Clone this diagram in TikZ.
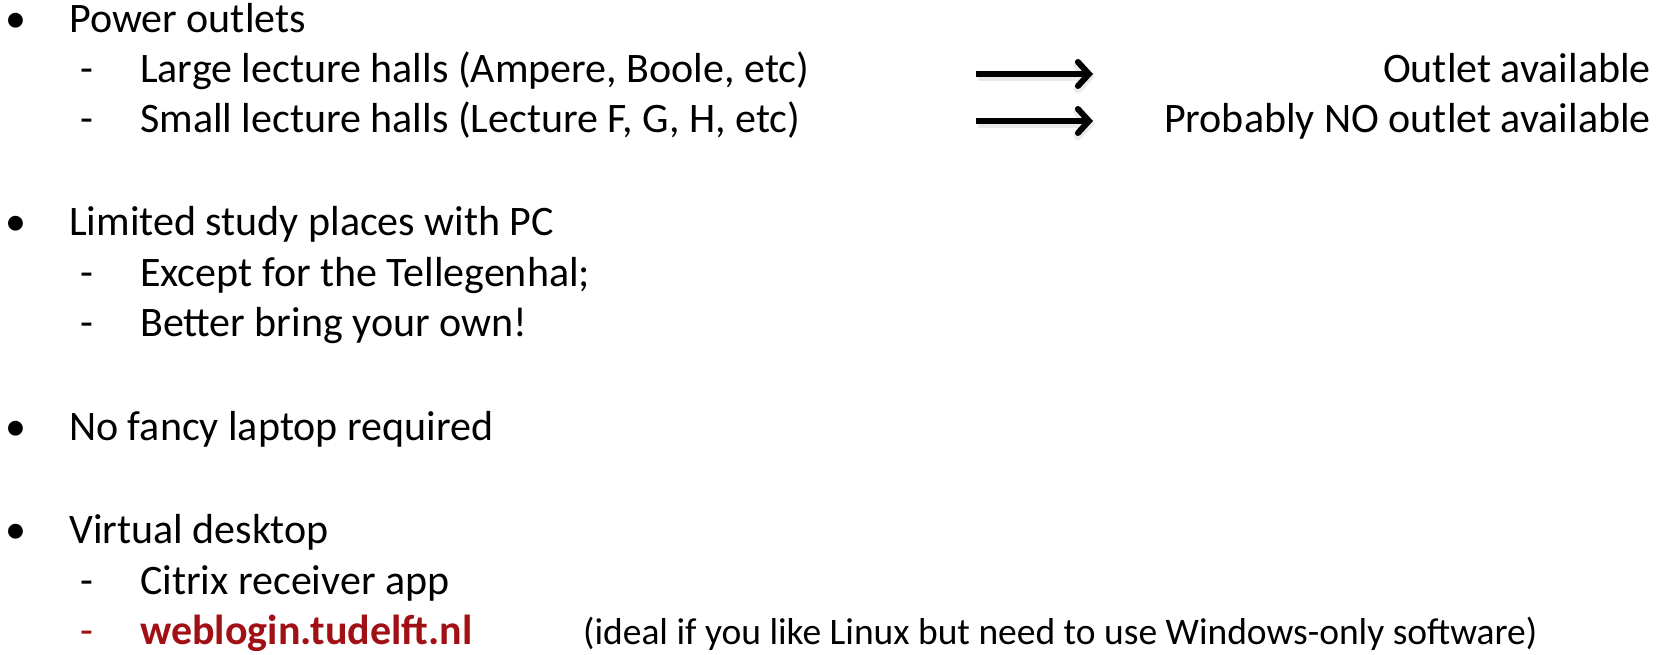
\documentclass[tikz,border=0pt]{standalone}
\usepackage{fontspec}
\setmainfont{Carlito}
\usetikzlibrary{arrows.meta}
\definecolor{tured}{RGB}{160,16,20}
\begin{document}
\begin{tikzpicture}[x=1pt,y=-1pt,
  txt/.style={anchor=base west,inner sep=0pt,font=\fontsize{42}{50}\selectfont},
  rtxt/.style={anchor=base east,inner sep=0pt,font=\fontsize{42}{50}\selectfont},
  bul/.style={anchor=base,inner sep=0pt,font=\fontsize{42}{50}\selectfont},
  arr/.style={line width=6pt,-{Straight Barb[length=11pt,width=24pt,line cap=round]}},
  arrshadow/.style={arr,draw=black,opacity=0.08,line width=9pt}]
\useasboundingbox (0,0) rectangle (1667,655);
% level 1
\node[bul] (b1) at (16,33) {•};
\node[txt] (t1) at (69,33) {Power outlets};
\node[bul] (d11) at (87,83) {-};
\node[txt] (t11) at (140,83) {Large lecture halls (Ampere, Boole, etc)};
\node[bul] (d12) at (87,133) {-};
\node[txt] (t12) at (140,133) {Small lecture halls (Lecture F, G, H, etc)};
\coordinate (a1s) at (976,74);
\coordinate (a1e) at (1093,74);
\coordinate (a2s) at (976,121);
\coordinate (a2e) at (1093,121);
\coordinate (s1s) at (978,77);
\coordinate (s1e) at (1095,77);
\coordinate (s2s) at (978,124);
\coordinate (s2e) at (1095,124);
\draw[arrshadow] (s1s) -- (s1e);
\draw[arrshadow] (s2s) -- (s2e);
\draw[arr] (a1s) -- (a1e);
\draw[arr] (a2s) -- (a2e);
\node[rtxt] (r1) at (1651,83) {Outlet available};
\node[rtxt] (r2) at (1651,133) {Probably NO outlet available};
\node[bul] (b2) at (16,236) {•};
\node[txt] (t2) at (69,236) {Limited study places with PC};
\node[bul] (d21) at (87,286) {-};
\node[txt] (t21) at (140,286) {Except for the Tellegenhal;};
\node[bul] (d22) at (87,336) {-};
\node[txt] (t22) at (140,336) {Better bring your own!};
\node[bul] (b3) at (16,440) {•};
\node[txt] (t3) at (69,440) {No fancy laptop required};
\node[bul] (b4) at (16,543) {•};
\node[txt] (t4) at (69,543) {Virtual desktop};
\node[bul] (d41) at (87,594) {-};
\node[txt] (t41) at (140,594) {Citrix receiver app};
\node[bul,text=tured] (d42) at (87,644) {-};
\node[txt,text=tured,font=\fontsize{42}{50}\selectfont\bfseries] (t42) at (140,644) {weblogin.tudelft.nl};
\node[txt,font=\fontsize{37.5}{45}\selectfont] (t43) at (583,644) {(ideal if you like Linux but need to use Windows-only software)};
\end{tikzpicture}
\end{document}
